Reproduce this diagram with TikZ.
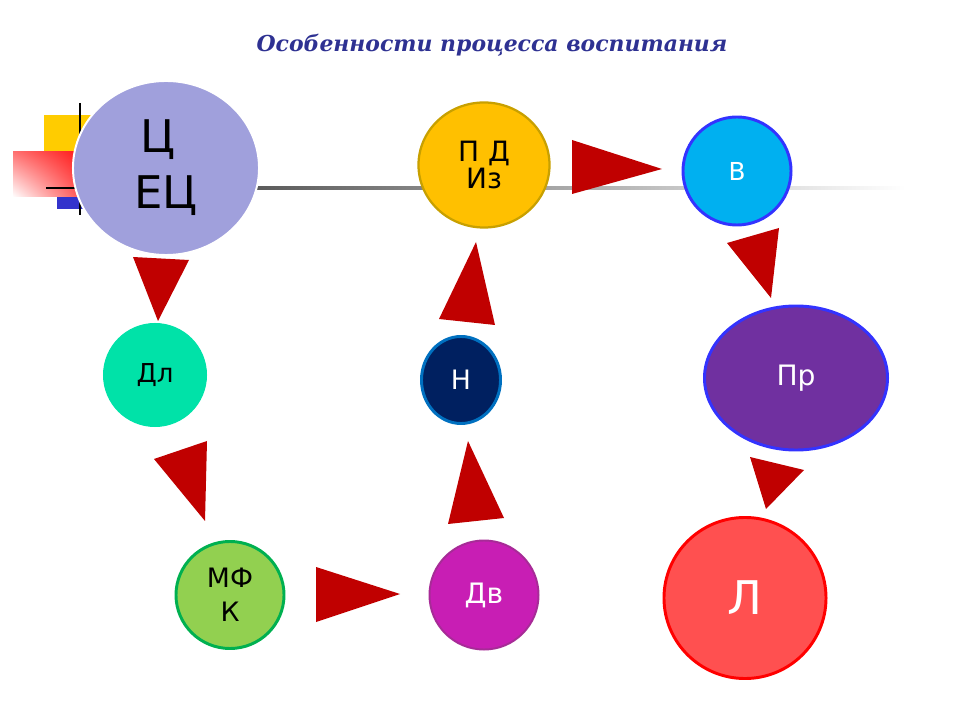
\documentclass[tikz,border=0pt]{standalone}
\usepackage{fontspec}
\setmainfont{DejaVu Sans}
\newfontfamily\titrefont{DejaVu Serif}
\usetikzlibrary{shapes.geometric,shadings}
\definecolor{titrebleu}{RGB}{46,49,146}
\definecolor{rougefl}{RGB}{192,0,0}
\definecolor{jaunedec}{RGB}{255,204,0}
\definecolor{bleudec}{RGB}{51,51,204}
\definecolor{lilas}{RGB}{160,160,220}
\definecolor{orfond}{RGB}{255,192,0}
\definecolor{orbord}{RGB}{200,160,0}
\definecolor{ciel}{RGB}{0,176,240}
\definecolor{bleuvif}{RGB}{51,51,255}
\definecolor{menthe}{RGB}{0,226,168}
\definecolor{marine}{RGB}{0,32,96}
\definecolor{marinebord}{RGB}{0,112,192}
\definecolor{herbe}{RGB}{146,208,80}
\definecolor{herbebord}{RGB}{0,176,80}
\definecolor{fuchsia}{RGB}{200,30,180}
\definecolor{fuchsiabord}{RGB}{167,43,151}
\definecolor{violet}{RGB}{112,48,160}
\definecolor{saumon}{RGB}{255,80,80}
\begin{document}
\begin{tikzpicture}[x=0.025cm,y=-0.025cm,
  bulle/.style={ellipse,inner sep=0pt,align=center},
  fleche/.style={fill=rougefl}]
\useasboundingbox (0,0) rectangle (960,720);
% decor en haut a gauche
\fill[jaunedec] (44,115) rectangle (100,152);
\shade[upper left=red!55!white,upper right=red,lower left=white,lower right=red!85!white] (13,152) rectangle (100,197);
\fill[bleudec] (57,197) rectangle (100,209);
\draw[line width=2.1pt] (80,103) -- (80,215);
\draw[line width=2.1pt] (46,188) -- (100,188);
\shade[left color=black!65,middle color=black!40,right color=white] (250,186.5) rectangle (905,190);
\node[text=titrebleu,font=\titrefont\bfseries\itshape\fontsize{15.6}{18}\selectfont] (titre) at (492,45) {Особенности процесса воспитания};
% fleches
\foreach \ax/\ay/\bx/\by/\cx/\cy in {572/140/572/194/662/169,727/243/779/228/771/298,439/319/495/325/476/242,133/257/189/260/158/321,154/459/207/441/205/521,448/524/504/518/468/441,316/567/316/622/400/594,750/457/804/470/766/509} {
\fill[fleche] (\ax,\ay) -- (\bx,\by) -- (\cx,\cy) -- cycle;
}
% bulles
\node[bulle,fill=lilas,draw=white,line width=1.4pt,minimum width=4.65cm,minimum height=4.35cm,font=\fontsize{32}{39.7}\selectfont] (cec) at (166,168) {Ц\hspace*{0.4cm}\\ЕЦ};
\node[bulle,fill=orfond,draw=orbord,line width=1.6pt,minimum width=3.275cm,minimum height=3.125cm,font=\fontsize{19.9}{19.8}\selectfont] (pdiz) at (484,165) {П Д\\Из};
\node[bulle,fill=ciel,draw=bleuvif,line width=2.1pt,minimum width=2.7cm,minimum height=2.7cm,text=white,font=\fontsize{17.6}{20}\selectfont] (v) at (737,171) {В};
\node[bulle,fill=menthe,minimum width=2.6cm,minimum height=2.6cm,font=\fontsize{18.5}{20}\selectfont] (dl) at (155,375) {Дл};
\node[bulle,fill=marine,draw=marinebord,line width=2.1pt,minimum width=1.975cm,minimum height=2.175cm,text=white,font=\fontsize{19}{22}\selectfont] (n) at (461,380) {Н};
\node[bulle,fill=herbe,draw=herbebord,line width=2.1pt,minimum width=2.7cm,minimum height=2.675cm,font=\fontsize{19}{24}\selectfont] (mfk) at (230,595) {МФ\\К};
\node[bulle,fill=fuchsia,draw=fuchsiabord,line width=1.4pt,minimum width=2.725cm,minimum height=2.725cm,text=white,font=\fontsize{20}{22}\selectfont] (dv) at (484,595) {Дв};
\node[bulle,fill=violet,draw=bleuvif,line width=2.1pt,minimum width=4.575cm,minimum height=3.6cm,text=white,font=\fontsize{20}{22}\selectfont] (pr) at (796,378) {Пр};
\node[bulle,fill=saumon,draw=red,line width=2.1pt,minimum width=4.05cm,minimum height=4.025cm,text=white,font=\fontsize{33}{36}\selectfont] (l) at (745,598) {Л};
\end{tikzpicture}
\end{document}
